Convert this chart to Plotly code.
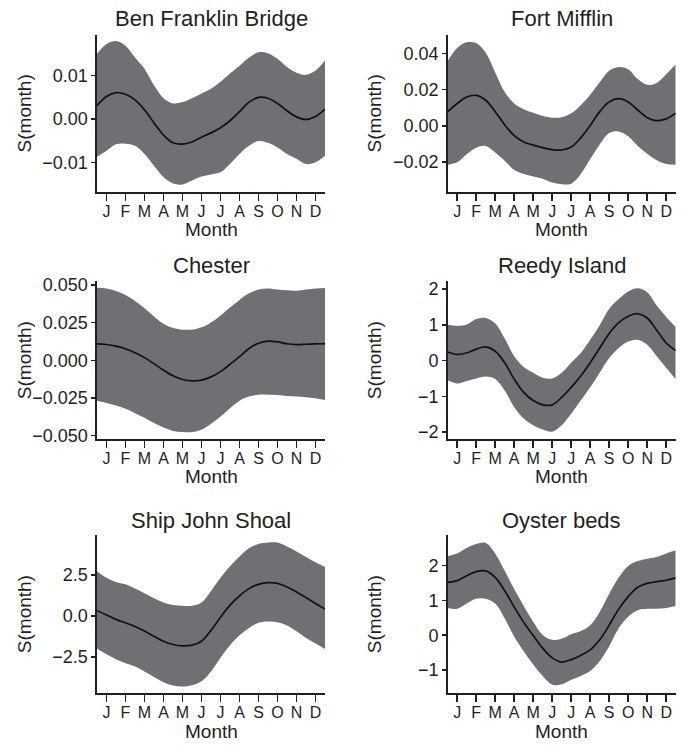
import plotly.graph_objects as go

# ---------------- data ----------------
month_pos = [0.5, 1.0, 1.5, 2.0, 2.5, 3.0, 3.5, 4.0, 4.5, 5.0, 5.5, 6.0, 6.5,
             7.0, 7.5, 8.0, 8.5, 9.0, 9.5, 10.0, 10.5, 11.0, 11.5, 12.0, 12.5]
month_ticks = [1, 2, 3, 4, 5, 6, 7, 8, 9, 10, 11, 12]
month_labels = ["J", "F", "M", "A", "M", "J", "J", "A", "S", "O", "N", "D"]

station_names = ["Ben Franklin Bridge", "Fort Mifflin", "Chester",
                 "Reedy Island", "Ship John Shoal", "Oyster beds"]

bfb_fit = [0.0031, 0.0052, 0.0061, 0.0057, 0.0044, 0.0021, -0.0009, -0.0037, -0.0055, -0.0058,
           -0.0053, -0.0042, -0.0032, -0.0020, -0.0004, 0.0017, 0.0039, 0.0050, 0.0048, 0.0036,
           0.0019, 0.0005, -0.0001, 0.0006, 0.0023]
bfb_upper = [0.0150, 0.0173, 0.0180, 0.0169, 0.0142, 0.0116, 0.0078, 0.0048, 0.0036, 0.0039,
             0.0048, 0.0059, 0.0070, 0.0086, 0.0105, 0.0123, 0.0142, 0.0154, 0.0152, 0.0139,
             0.0120, 0.0107, 0.0102, 0.0112, 0.0135]
bfb_lower = [-0.0087, -0.0073, -0.0058, -0.0057, -0.0062, -0.0081, -0.0108, -0.0134, -0.0149, -0.0151,
             -0.0142, -0.0133, -0.0128, -0.0123, -0.0104, -0.0081, -0.0062, -0.0051, -0.0055, -0.0066,
             -0.0081, -0.0092, -0.0104, -0.0100, -0.0085]

ftm_fit = [0.0078, 0.0123, 0.0159, 0.0168, 0.0141, 0.0078, 0.0005, -0.0054, -0.0089, -0.0107,
           -0.0121, -0.0132, -0.0134, -0.0117, -0.0067, 0.0002, 0.0078, 0.0132, 0.0150, 0.0132,
           0.0087, 0.0045, 0.0029, 0.0038, 0.0069]
ftm_upper = [0.0358, 0.0430, 0.0461, 0.0457, 0.0403, 0.0295, 0.0186, 0.0123, 0.0092, 0.0072,
             0.0054, 0.0045, 0.0047, 0.0069, 0.0114, 0.0172, 0.0240, 0.0304, 0.0325, 0.0313,
             0.0258, 0.0226, 0.0237, 0.0285, 0.0340]
ftm_lower = [-0.0215, -0.0202, -0.0157, -0.0121, -0.0112, -0.0148, -0.0193, -0.0244, -0.0266, -0.0280,
             -0.0293, -0.0314, -0.0323, -0.0320, -0.0266, -0.0184, -0.0103, -0.0040, -0.0031, -0.0058,
             -0.0112, -0.0154, -0.0190, -0.0211, -0.0215]

che_fit = [0.0110, 0.0105, 0.0094, 0.0077, 0.0050, 0.0018, -0.0022, -0.0066, -0.0103, -0.0127,
           -0.0136, -0.0132, -0.0110, -0.0075, -0.0026, 0.0024, 0.0079, 0.0114, 0.0127, 0.0123,
           0.0110, 0.0105, 0.0107, 0.0110, 0.0110]
che_upper = [0.0482, 0.0478, 0.0461, 0.0434, 0.0395, 0.0346, 0.0292, 0.0243, 0.0215, 0.0204,
             0.0204, 0.0219, 0.0252, 0.0298, 0.0351, 0.0401, 0.0445, 0.0471, 0.0478, 0.0471,
             0.0465, 0.0463, 0.0471, 0.0478, 0.0480]
che_lower = [-0.0268, -0.0283, -0.0300, -0.0322, -0.0351, -0.0382, -0.0417, -0.0447, -0.0469, -0.0476,
             -0.0476, -0.0461, -0.0421, -0.0373, -0.0318, -0.0268, -0.0241, -0.0228, -0.0228, -0.0230,
             -0.0237, -0.0241, -0.0246, -0.0252, -0.0263]

rdi_fit = [0.24, 0.17, 0.21, 0.32, 0.38, 0.26, -0.06, -0.52, -0.89, -1.12,
           -1.24, -1.24, -1.03, -0.75, -0.43, -0.06, 0.35, 0.76, 1.06, 1.24,
           1.31, 1.19, 0.85, 0.49, 0.28]
rdi_upper = [1.01, 0.97, 1.01, 1.16, 1.19, 1.04, 0.62, 0.12, -0.18, -0.34,
             -0.48, -0.50, -0.34, -0.06, 0.21, 0.58, 0.99, 1.45, 1.72, 1.93,
             2.02, 1.91, 1.54, 1.22, 0.94]
rdi_lower = [-0.55, -0.64, -0.57, -0.50, -0.45, -0.52, -0.84, -1.30, -1.62, -1.81,
             -1.93, -1.99, -1.81, -1.49, -1.12, -0.75, -0.34, 0.07, 0.35, 0.53,
             0.58, 0.44, 0.12, -0.20, -0.52]

sjs_fit = [0.32, 0.06, -0.22, -0.42, -0.64, -0.92, -1.24, -1.54, -1.74, -1.82,
           -1.78, -1.54, -0.88, -0.08, 0.66, 1.22, 1.66, 1.92, 2.02, 1.98,
           1.76, 1.46, 1.12, 0.76, 0.42]
sjs_upper = [2.72, 2.32, 2.06, 1.92, 1.66, 1.38, 1.08, 0.82, 0.66, 0.62,
             0.62, 0.82, 1.52, 2.32, 3.02, 3.62, 4.12, 4.38, 4.46, 4.46,
             4.22, 3.92, 3.58, 3.26, 2.98]
sjs_lower = [-1.98, -2.34, -2.64, -2.88, -3.08, -3.38, -3.72, -4.04, -4.24, -4.30,
             -4.22, -3.98, -3.38, -2.54, -1.78, -1.18, -0.74, -0.42, -0.34, -0.38,
             -0.58, -0.94, -1.34, -1.68, -2.02]

oys_fit = [1.52, 1.57, 1.71, 1.83, 1.85, 1.66, 1.28, 0.81, 0.37, -0.01,
           -0.37, -0.65, -0.77, -0.70, -0.58, -0.42, -0.13, 0.29, 0.75, 1.11,
           1.38, 1.49, 1.54, 1.58, 1.65]
oys_upper = [2.27, 2.35, 2.51, 2.62, 2.65, 2.35, 1.85, 1.33, 0.84, 0.39,
             0.01, -0.13, -0.10, 0.03, 0.12, 0.29, 0.67, 1.19, 1.66, 1.99,
             2.13, 2.20, 2.25, 2.35, 2.44]
oys_lower = [0.78, 0.76, 0.91, 1.05, 1.05, 0.91, 0.48, -0.04, -0.46, -0.84,
             -1.17, -1.42, -1.41, -1.28, -1.17, -1.03, -0.75, -0.32, 0.20, 0.53,
             0.72, 0.76, 0.76, 0.78, 0.84]

y_tickvals = [[-0.01, 0.0, 0.01], [-0.02, 0.0, 0.02, 0.04],
              [-0.05, -0.025, 0.0, 0.025, 0.05], [-2, -1, 0, 1, 2],
              [-2.5, 0.0, 2.5], [-1, 0, 1, 2]]
y_tickformats = [".2f", ".2f", ".3f", "d", ".1f", "d"]
y_ranges = [[-0.0169, 0.0195], [-0.0367, 0.0504], [-0.0526, 0.0528],
            [-2.21, 2.23], [-4.69, 4.90], [-1.66, 2.87]]

series = [(bfb_fit, bfb_upper, bfb_lower), (ftm_fit, ftm_upper, ftm_lower),
          (che_fit, che_upper, che_lower), (rdi_fit, rdi_upper, rdi_lower),
          (sjs_fit, sjs_upper, sjs_lower), (oys_fit, oys_upper, oys_lower)]

# ---------------- layout geometry (window pixels) ----------------
W, H = 683, 746
col_x = [(97, 325), (447.7, 675.7)]
row_y = [(30, 190), (280, 441), (538.3, 698.3)]
title_y = [14, 264, 523]
xlab_y = [228, 479, 737]
ylab_x = [24, 374]


def px(x):
    return x / W


def py(y):
    return 1 - y / H


FILL = "rgb(111,112,116)"
INK = "#231f20"
FONT = "Liberation Sans, Arial, sans-serif"

fig = go.Figure()
layout = dict(
    width=W, height=H, margin=dict(l=0, r=0, t=0, b=0),
    paper_bgcolor="white", plot_bgcolor="white", showlegend=False,
    font=dict(family=FONT, color=INK),
)
annotations = []

for i, (fit, up, lo) in enumerate(series):
    r, c = divmod(i, 2)
    n = i + 1
    xa = "x" if n == 1 else f"x{n}"
    ya = "y" if n == 1 else f"y{n}"
    x0, x1 = col_x[c]
    yt, yb = row_y[r]

    fig.add_trace(go.Scatter(x=month_pos, y=lo, mode="lines", line=dict(width=0, shape="spline"),
                             hoverinfo="skip", xaxis=xa, yaxis=ya))
    fig.add_trace(go.Scatter(x=month_pos, y=up, mode="lines", line=dict(width=0, shape="spline"),
                             fill="tonexty", fillcolor=FILL, hoverinfo="skip", xaxis=xa, yaxis=ya))
    fig.add_trace(go.Scatter(x=month_pos, y=fit, mode="lines",
                             line=dict(color="#111111", width=1.7, shape="spline"),
                             xaxis=xa, yaxis=ya))

    layout["xaxis" if n == 1 else f"xaxis{n}"] = dict(
        domain=[px(x0), px(x1)], range=[0.5, 12.5], anchor=ya,
        tickmode="array", tickvals=month_ticks, ticktext=month_labels,
        ticks="outside", ticklen=7, tickwidth=1.5, tickcolor=INK, ticklabelstandoff=-3,
        showline=True, linecolor=INK, linewidth=1.6, showgrid=False, zeroline=False,
        tickfont=dict(size=16, family=FONT, color=INK), fixedrange=True,
    )
    layout["yaxis" if n == 1 else f"yaxis{n}"] = dict(
        domain=[py(yb), py(yt)], range=y_ranges[i], anchor=xa,
        tickmode="array", tickvals=y_tickvals[i], tickformat=y_tickformats[i],
        ticks="outside", ticklen=4, tickwidth=1.5, tickcolor=INK,
        showline=True, linecolor=INK, linewidth=1.6, showgrid=False, zeroline=False,
        tickfont=dict(size=18, family=FONT, color=INK), fixedrange=True,
    )

    annotations.append(dict(text=station_names[i], x=px((x0 + x1) / 2), y=py(title_y[r]),
                            xref="paper", yref="paper", xanchor="center", yanchor="middle",
                            showarrow=False, font=dict(size=22, family=FONT, color=INK)))
    annotations.append(dict(text="Month", x=px((x0 + x1) / 2), y=py(xlab_y[r]),
                            xref="paper", yref="paper", xanchor="center", yanchor="middle",
                            showarrow=False, font=dict(size=19, family=FONT, color=INK)))
    annotations.append(dict(text="S(month)", x=px(ylab_x[c]), y=py((yt + yb) / 2),
                            xref="paper", yref="paper", xanchor="center", yanchor="middle",
                            textangle=-90, showarrow=False,
                            font=dict(size=19, family=FONT, color=INK)))

layout["annotations"] = annotations
fig.update_layout(**layout)
# remove the default page margin so the figure sits exactly in the window
fig.write_html("out.html",
               config={"displayModeBar": False, "staticPlot": True},
               post_script="document.body.style.margin='0';"
                           "document.documentElement.style.overflow='hidden';")
